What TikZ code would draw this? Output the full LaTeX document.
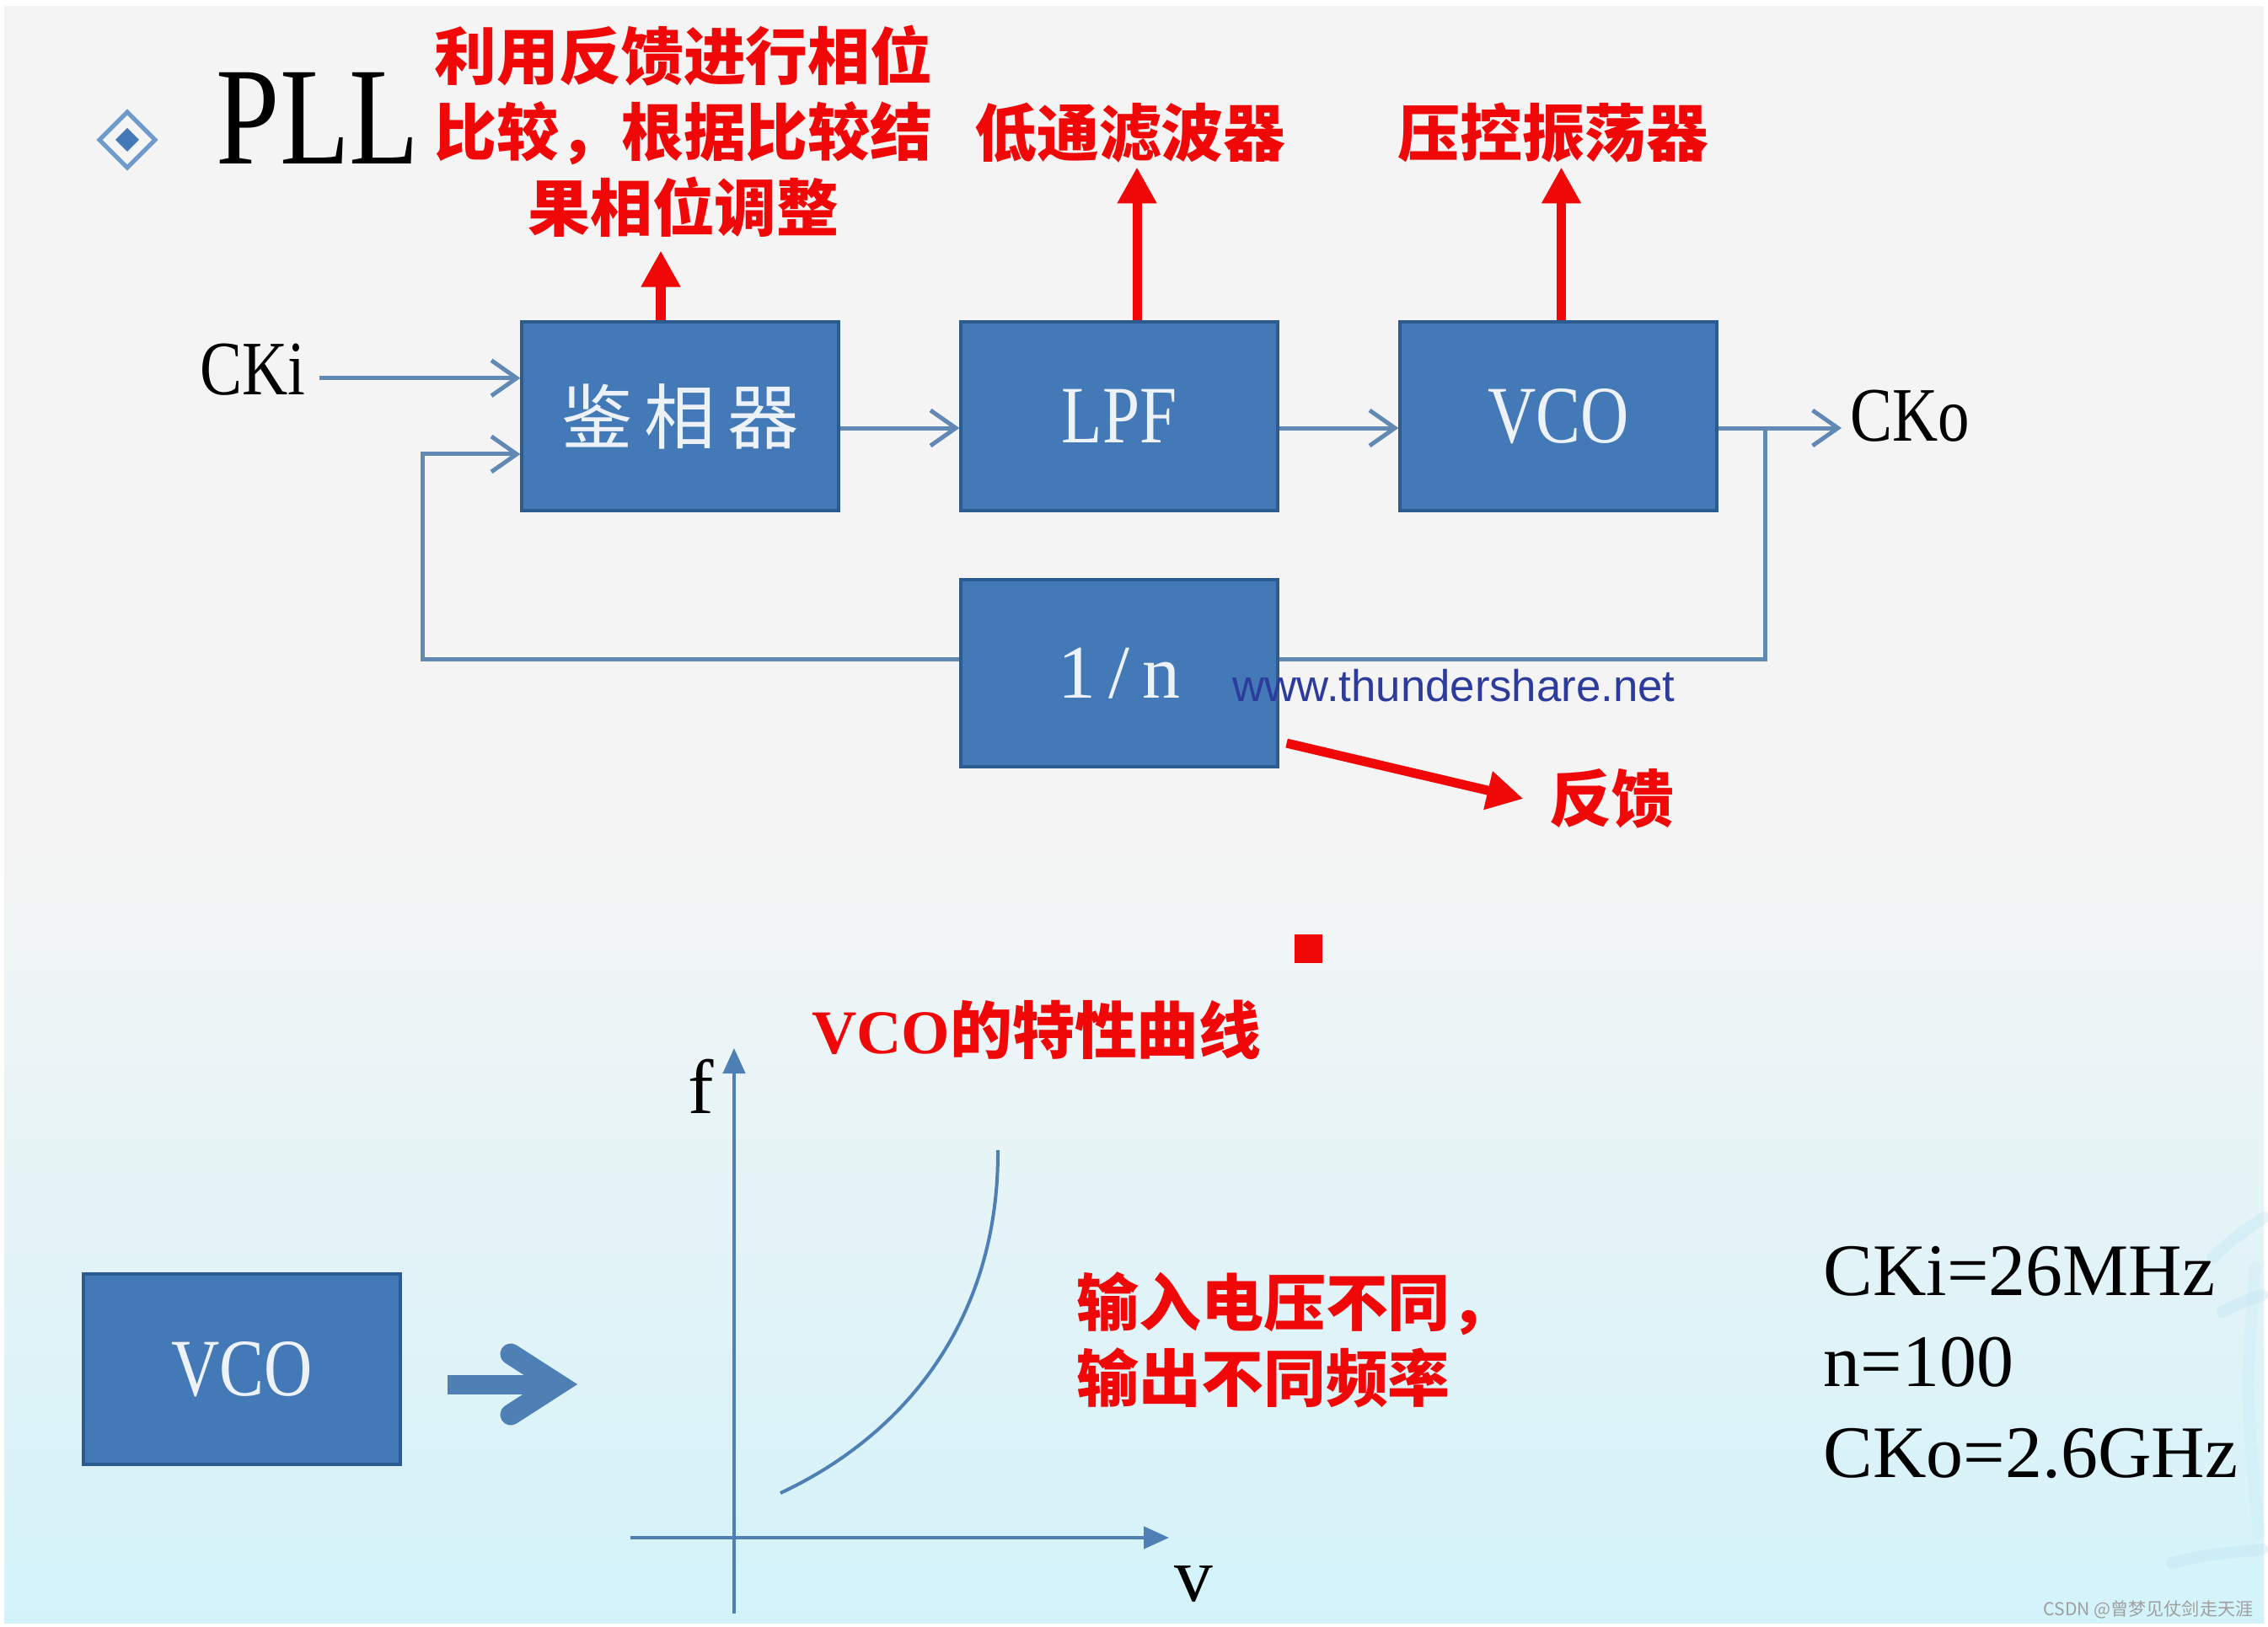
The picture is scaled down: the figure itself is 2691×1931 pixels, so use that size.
\documentclass[tikz,border=0pt]{standalone}
\usepackage{fontspec}
\usepackage{tikz}
\usetikzlibrary{arrows.meta}

\setmainfont{Liberation Serif}
\newfontfamily\narrowfont{Liberation Serif}[FakeStretch=0.82]
\newfontfamily\zhfont{Noto Sans CJK SC}
\newfontfamily\urlfont{Liberation Sans}

\definecolor{blockblue}{HTML}{4279B6}
\definecolor{blockedge}{HTML}{2C5C8F}
\definecolor{bulletblue}{HTML}{6E9BCB}
\definecolor{wireblue}{HTML}{6189B3}
\definecolor{axisblue}{HTML}{4E80B6}
\definecolor{notered}{HTML}{F00808}
\definecolor{urlblue}{HTML}{2D3C9C}
\definecolor{bgtop}{HTML}{F4F4F4}
\definecolor{bgbot}{HTML}{D3F3FA}
\definecolor{blocktext}{HTML}{EDF2F8}
\definecolor{swirlblue}{HTML}{BDE4F3}

\begin{document}
\begin{tikzpicture}[
        x=0.01cm, y=-0.01cm,
        block/.style={draw=blockedge, fill=blockblue, line width=0.04cm,
            minimum width=3.75cm, minimum height=2.24cm, inner sep=0, text=blocktext},
        wire/.style={draw=wireblue, line width=0.05cm},
        conn/.style={wire, -{Straight Barb[length=0.3cm, width=0.42cm]}},
        note/.style={text=notered, inner sep=0, align=center,
            font=\zhfont\bfseries\fontsize{21}{25.6}\selectfont},
        notearrow/.style={draw=notered, line width=0.11cm, -{Triangle[length=0.43cm, width=0.44cm]}},
        axis/.style={draw=axisblue, line width=0.045cm, -{Triangle[length=0.3cm, width=0.26cm]}},
        swirl/.style={draw=swirlblue, line width=0.14cm, line cap=round, opacity=0.35},
    ]
        \useasboundingbox (0,0) rectangle (2691,1931);
        \fill[white] (0,0) rectangle (2691,1931);
        \fill[bgtop] (5,7) rectangle (2686,1000);
        \shade[top color=bgtop, bottom color=bgbot] (5,1000) rectangle (2686,1926);
        \draw[swirl] (2625,1493) .. controls (2650,1470) .. (2686,1445);
        \draw[swirl] (2637,1557) .. controls (2660,1545) .. (2684,1537);
        \draw[swirl] (2577,1855) .. controls (2620,1845) .. (2684,1839);
        \draw[swirl, opacity=0.2] (2676,1505) .. controls (2664,1650) .. (2680,1820);

        % title
        \draw[bulletblue, line width=0.05cm] (151,133) -- (184,166) -- (151,199) -- (118,166) -- cycle;
        \fill[blockblue] (151,152) -- (165,166) -- (151,180) -- (137,166) -- cycle;
        \node[anchor=base west, inner sep=0, font=\narrowfont\fontsize{47}{50}\selectfont] (title) at (256,195) {PLL};

        % loop
        \node[block, font=\zhfont\fontsize{24}{28}\selectfont] (pd) at (807,494) {鉴\,相\,器};
        \node[block, font=\narrowfont\fontsize{27.5}{30}\selectfont] (lpf) at (1328,494) {LPF};
        \node[block, font=\narrowfont\fontsize{27.5}{30}\selectfont] (vco) at (1849,494) {VCO};
        \node[block, minimum height=2.22cm, font=\fontsize{25.6}{30}\selectfont] (div) at (1328,799) {1\,/\,n};

        \node[anchor=west, inner sep=0, font=\narrowfont\fontsize{26}{30}\selectfont] (cki) at (237,439) {CKi};
        \node[anchor=west, inner sep=0, font=\narrowfont\fontsize{26}{30}\selectfont] (cko) at (2195,494) {CKo};
        \coordinate (tap) at (2094,508);
        \coordinate (fbin) at (501,539);

        \draw[conn] ([xshift=0.16cm, yshift=1.2mm]cki.mid east) -- ([yshift=1.2mm]cki.mid east -| pd.west);
        \draw[conn] ([yshift=-1.4mm]pd.east) -- ([yshift=-1.4mm]lpf.west);
        \draw[conn] ([yshift=-1.4mm]lpf.east) -- ([yshift=-1.4mm]vco.west);
        \draw[conn] ([yshift=-1.4mm]vco.east) -- ([yshift=-1.4mm, xshift=-1mm]vco.east -| cko.west);
        \draw[wire] (tap) |- ([yshift=1.6mm]div.east);
        \draw[conn] ([yshift=1.6mm]div.west) -| (fbin) -- (fbin -| pd.west);

        \node[anchor=base west, inner sep=0, text=urlblue, font=\urlfont\fontsize{15}{18}\selectfont] (url) at (1462,832) {www.thundershare.net};

        % notes
        \node[note, inner ysep=1.5mm] (pdnote) at (811,156) {利用反馈进行相位\\比较，根据比较结\\果相位调整};
        \node[note, inner ysep=0.4mm] (lpfnote) at (1341,158) {低通滤波器};
        \node[note, inner ysep=0.4mm] (vconote) at (1843,158) {压控振荡器};
        \node[note, inner sep=0.3cm] (fb) at (1912,948) {反馈};

        \draw[notearrow] ([xshift=-0.23cm]pd.north) -- ([xshift=-0.23cm]pd.north |- pdnote.south);
        \draw[notearrow] ([xshift=0.21cm]lpf.north) -- ([xshift=0.21cm]lpf.north |- lpfnote.south);
        \draw[notearrow] ([xshift=0.035cm]vco.north) -- ([xshift=0.035cm]vco.north |- vconote.south);
        \draw[notearrow] ([shift={(0.09cm,0.3cm)}]div.south east) -- (fb.west);

        \fill[notered] (1536,1109) rectangle (1569,1143);

        % VCO curve
        \node[note] (curvenote) at (1230,1222) {{\rmfamily\bfseries VCO}的特性曲线};
        \node[block, minimum height=2.25cm, font=\narrowfont\fontsize{27.5}{30}\selectfont] (vcoleft) at (287,1625) {VCO};
        \draw[axisblue, line width=0.23cm] (531,1643) -- (662,1643);
        \draw[axisblue, line width=0.25cm, line cap=round] (606,1607) -- (662,1643) -- (606,1679);

        \draw[axis] (871,1915) -- (871,1244);
        \draw[axis] (748,1825) -- (1387,1825);
        \node[inner sep=0, font=\fontsize{26}{30}\selectfont] (flabel) at (832,1289) {f};
        \node[inner sep=0, font=\fontsize{26}{30}\selectfont] (vlabel) at (1416,1880) {v};
        \draw[axisblue, line width=0.04cm] (926,1772) .. controls (1080,1700) and (1185,1560) .. (1184,1365);

        \node[note, align=left, anchor=west] (vnote) at (1277,1590) {输入电压不同，\\输出不同频率};
        \node[anchor=north west, align=left, inner sep=0, font=\fontsize{25}{30.7}\selectfont] (params) at (2163,1479) {CKi=26MHz\\n=100\\CKo=2.6GHz};

        \node[anchor=south east, inner sep=0, text=gray!75, font=\zhfont\fontsize{6}{7}\selectfont] (csdn) at (2674,1922) {CSDN @曾梦见仗剑走天涯};
    \end{tikzpicture}
\end{document}
